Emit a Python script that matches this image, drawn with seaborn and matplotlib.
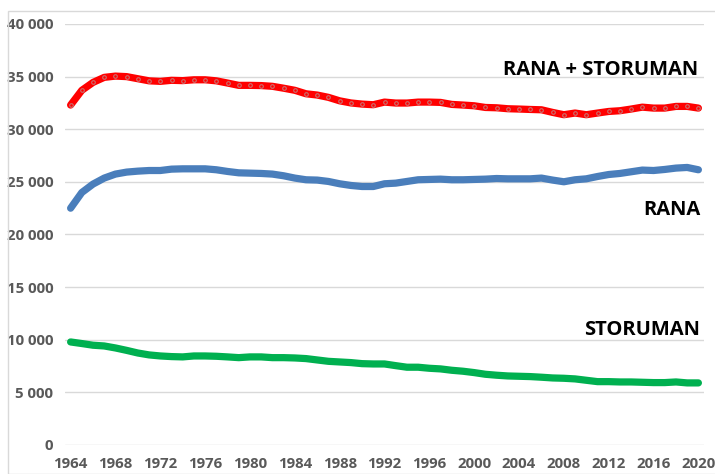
import numpy as np
import pandas as pd
import matplotlib
matplotlib.use('Agg')
import matplotlib.pyplot as plt
import matplotlib.ticker as mticker
from matplotlib.patches import Rectangle
import seaborn as sns

# ── data ──
years = list(range(1964, 2021))

rana_storuman = [32300, 33700, 34450, 34930, 35050, 35000, 34800, 34600, 34550, 34650,
                 34620, 34700, 34700, 34600, 34390, 34170, 34170, 34150, 34080, 33900,
                 33700, 33370, 33250, 33030, 32700, 32500, 32390, 32330, 32580, 32490,
                 32490, 32580, 32580, 32550, 32360, 32300, 32230, 32070, 32040, 31950,
                 31920, 31880, 31850, 31600, 31380, 31540, 31380, 31540, 31690, 31760,
                 31920, 32100, 32010, 32010, 32170, 32170, 32010]

rana = [22500, 23990, 24790, 25360, 25740, 25930, 26020, 26080, 26080, 26210,
        26240, 26240, 26240, 26150, 25990, 25860, 25830, 25800, 25740, 25580,
        25360, 25200, 25170, 25040, 24820, 24660, 24560, 24560, 24820, 24880,
        25040, 25200, 25230, 25260, 25200, 25200, 25230, 25260, 25320, 25290,
        25290, 25290, 25360, 25170, 25010, 25200, 25290, 25510, 25700, 25800,
        25960, 26120, 26080, 26180, 26310, 26370, 26150]

storuman = [9790, 9640, 9480, 9410, 9220, 8990, 8740, 8560, 8460, 8400,
            8370, 8460, 8460, 8430, 8370, 8300, 8370, 8370, 8300, 8300,
            8270, 8210, 8080, 7950, 7890, 7830, 7730, 7700, 7700, 7540,
            7390, 7390, 7290, 7230, 7100, 7010, 6880, 6720, 6630, 6560,
            6530, 6500, 6440, 6370, 6340, 6280, 6150, 6020, 6020, 5990,
            5990, 5960, 5930, 5930, 5990, 5900, 5900]

series_names = ['RANA + STORUMAN', 'RANA', 'STORUMAN']
series_colors = ['#ff0000', '#4a7ebb', '#00b050']

df = pd.concat([
    pd.DataFrame({'År': years, 'Folkmängd': vals, 'Serie': name})
    for name, vals in zip(series_names, [rana_storuman, rana, storuman])
])

# ── figure ──
sns.set_style('white')
plt.rcParams['font.family'] = ['Open Sans', 'DejaVu Sans']

fig = plt.figure(figsize=(7.15, 4.74), dpi=100)
ax = fig.add_axes([65 / 715, 1 - 445 / 474, 639 / 715, 421 / 474])

# light frame round the chart area
fig.patches.append(Rectangle((8 / 715, 0), 1.0, 1 - 11 / 474, transform=fig.transFigure,
                             fill=False, edgecolor='#d9d9d9', linewidth=1.0))

sns.lineplot(data=df, x='År', y='Folkmängd', hue='Serie', hue_order=series_names,
             palette=dict(zip(series_names, series_colors)), linewidth=5.2,
             legend=False, ax=ax, solid_capstyle='round')

# the red series carries small hollow markers in Excel
red_line = ax.lines[0]
red_line.set_marker('o')
red_line.set_markersize(2.6)
red_line.set_markerfacecolor('#ff0000')
red_line.set_markeredgecolor('#c87070')
red_line.set_markeredgewidth(0.8)
red_line.set_zorder(3)

ax.set_xlim(1963.5, 2020.5)
ax.set_ylim(0, 40000)
ax.set_xticks(range(1964, 2021, 4))
ax.set_yticks(range(0, 40001, 5000))
ax.yaxis.set_major_formatter(mticker.FuncFormatter(lambda v, p: f'{int(v):,}'.replace(',', ' ')))

ax.grid(axis='y', color='#d9d9d9', linewidth=1.0)
ax.set_axisbelow(True)
for s in ax.spines.values():
    s.set_visible(False)
ax.tick_params(axis='both', length=0, labelsize=10.8, labelcolor='#595959')
ax.tick_params(axis='y', pad=8.5)
ax.tick_params(axis='x', pad=8.5)
for lab in ax.get_xticklabels() + ax.get_yticklabels():
    lab.set_fontweight('bold')
ax.set_xlabel('')
ax.set_ylabel('')

# series labels
label_kw = dict(ha='right', va='center', fontsize=14.5, fontweight='bold', color='black')
ax.text(2020.0, 35650, 'RANA + STORUMAN', **label_kw)
ax.text(2020.2, 22350, 'RANA', **label_kw)
ax.text(2020.1, 10900, 'STORUMAN', **label_kw)

fig.savefig('out.png', dpi=100)
